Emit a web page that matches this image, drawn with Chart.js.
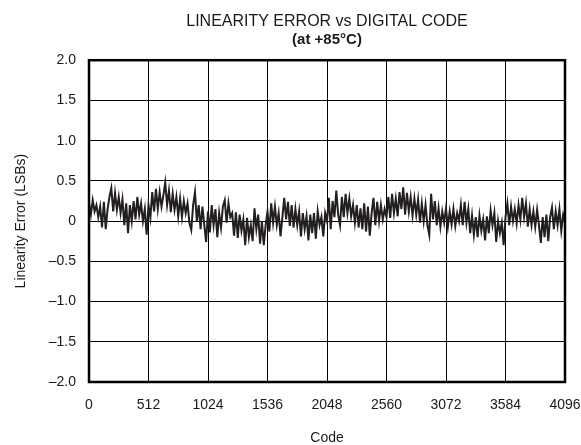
<!DOCTYPE html>
<html>
<head>
<meta charset="utf-8">
<script src="https://cdn.jsdelivr.net/npm/chart.js@4.4.1/dist/chart.umd.min.js"></script>
<style>
  html, body { margin: 0; padding: 0; background: #fff; }
  #wrap { width: 581px; height: 445px; }
</style>
</head>
<body>
<div id="wrap"><canvas id="myChart" width="581" height="445"></canvas></div>
<script>
// codes are sampled every 16 LSB steps
const codeStep = 16;
const xTicks = [0, 512, 1024, 1536, 2048, 2560, 3072, 3584, 4096];
const yTicks = [-2.0, -1.5, -1.0, -0.5, 0, 0.5, 1.0, 1.5, 2.0];

// linearity error (LSBs), code 0 .. 1008
const errQ1 = [
  0.22, 0.08, 0.26, 0.12, 0.2, 0.05, 0.18, -0.08,
  0.24, -0.1, 0.15, 0.3, 0.41, 0.12, 0.35, 0.14,
  0.3, 0.1, 0.27, -0.05, 0.22, -0.15, 0.2, 0.0,
  0.25, 0.02, 0.3, 0.08, 0.22, 0.0, 0.15, -0.17,
  0.2, 0.04, 0.36, 0.12, 0.4, 0.15, 0.36, 0.18,
  0.32, 0.48, 0.2, 0.38, 0.11, 0.34, 0.14, 0.3,
  0.06, 0.28, 0.05, 0.25, 0.1, 0.22, -0.02, -0.11,
  0.2, 0.36, 0.0, 0.2, -0.1, 0.18, -0.05, -0.26
];
// code 1024 .. 2032
const errQ2 = [
  0.12, -0.14, 0.2, -0.05, 0.15, -0.2, 0.1, -0.08,
  0.18, 0.26, -0.02, 0.22, 0.05, 0.1, -0.18, 0.11,
  -0.21, 0.08, -0.12, 0.02, -0.3, 0.04, -0.2, -0.05,
  -0.25, 0.16, -0.1, 0.08, -0.28, 0.0, -0.3, -0.05,
  0.12, -0.13, 0.22, -0.02, 0.18, -0.05, 0.1, -0.19,
  0.05, 0.29, 0.02, 0.24, -0.06, 0.2, -0.08, 0.15,
  -0.05, 0.12, -0.19, 0.1, -0.1, 0.06, -0.24, 0.08,
  -0.15, 0.1, -0.22, 0.12, -0.05, 0.05, -0.19, 0.1
];
// code 2048 .. 3056
const errQ3 = [
  0.0, 0.29, -0.1, 0.25, 0.05, 0.38, 0.08, -0.05,
  0.3, 0.05, 0.34, 0.1, 0.28, 0.06, 0.2, -0.02,
  0.2, -0.08, 0.16, -0.1, 0.22, -0.13, 0.18, -0.18,
  0.1, 0.29, -0.05, 0.24, 0.0, 0.2, 0.02, 0.15,
  0.05, 0.3, 0.04, 0.34, 0.1, 0.28, 0.06, 0.36,
  0.15, 0.42, 0.08, 0.35, 0.12, 0.3, 0.07, 0.28,
  0.08, 0.27, -0.02, 0.22, 0.0, 0.2, -0.05, -0.17,
  0.34, 0.02, 0.25, -0.05, 0.16, -0.07, 0.12, -0.02
];
// code 3072 .. 4096
const errQ4 = [
  0.16, -0.07, 0.12, -0.04, 0.15, -0.06, 0.1, 0.0,
  0.2, -0.05, 0.24, -0.02, 0.15, -0.15, 0.07, -0.17,
  0.05, -0.2, 0.07, -0.12, 0.02, -0.24, 0.06, -0.15,
  0.13, -0.05, 0.1, -0.26, 0.0, -0.15, -0.02, -0.3,
  0.05, 0.22, -0.05, 0.18, 0.0, 0.15, -0.03, 0.2,
  0.02, 0.29, 0.05, 0.22, -0.07, 0.15, -0.05, 0.12,
  -0.07, 0.14, -0.05, -0.27, 0.05, -0.2, 0.08, -0.25,
  0.05, 0.17, -0.1, 0.12, -0.05, 0.15, -0.12, 0.08,
  0.0
];

const errorValues = [...errQ1, ...errQ2, ...errQ3, ...errQ4];
const points = errorValues.map((v, i) => ({ x: i * codeStep, y: v }));

const FONT = "'Liberation Sans', Arial, Helvetica, sans-serif";
const INK = '#1a1a1a';

// thick frame round the plot area
const frame = {
  id: 'frame',
  afterDatasetsDraw(chart) {
    const { ctx, chartArea: a } = chart;
    ctx.save();
    ctx.strokeStyle = '#000';
    ctx.lineWidth = 2.5;
    ctx.strokeRect(a.left, a.top, a.right - a.left, a.bottom - a.top);
    ctx.restore();
  }
};

const fmtY = v => {
  if (v === 0) return '0';
  const s = Math.abs(v).toFixed(1);
  return v < 0 ? '\u2013' + s : s;
};

new Chart(document.getElementById('myChart'), {
  type: 'line',
  data: {
    datasets: [{
      data: points,
      borderColor: '#231f20',
      borderWidth: 2,
      pointRadius: 0,
      tension: 0,
      fill: false
    }]
  },
  options: {
    responsive: false,
    animation: false,
    events: [],
    layout: { padding: { left: 0, right: 0, top: 0, bottom: 0 } },
    plugins: {
      legend: { display: false },
      tooltip: { enabled: false },
      title: {
        display: true,
        fullSize: false,
        text: 'LINEARITY ERROR vs DIGITAL CODE',
        color: INK,
        font: { family: FONT, size: 16, weight: 'normal', lineHeight: 1.2 },
        padding: { top: 11.5, bottom: 0 }
      },
      subtitle: {
        display: true,
        fullSize: false,
        text: '(at +85\u00B0C)',
        color: INK,
        font: { family: FONT, size: 15, weight: 'bold', lineHeight: 1.2 },
        padding: { top: 0.5, bottom: 11 }
      }
    },
    scales: {
      x: {
        type: 'linear',
        min: 0,
        max: 4096,
        afterBuildTicks: s => { s.ticks = xTicks.map(v => ({ value: v })); },
        afterFit: s => { s.height = 63; s.paddingLeft = 0; s.paddingRight = 16; },
        grid: { color: '#000', lineWidth: 1, drawTicks: false },
        border: { display: false },
        ticks: {
          color: INK,
          font: { family: FONT, size: 14 },
          padding: 15,
          maxRotation: 0,
          callback: v => String(v)
        },
        title: {
          display: true,
          text: 'Code',
          color: INK,
          font: { family: FONT, size: 14 },
          padding: { top: 0, bottom: -2 }
        }
      },
      y: {
        min: -2,
        max: 2,
        afterBuildTicks: s => { s.ticks = yTicks.map(v => ({ value: v })); },
        afterFit: s => { s.width = 89; },
        grid: { color: '#000', lineWidth: 1, drawTicks: false },
        border: { display: false },
        ticks: { color: INK, font: { family: FONT, size: 14 }, padding: 13, callback: fmtY },
        title: {
          display: true,
          text: 'Linearity Error (LSBs)',
          color: INK,
          font: { family: FONT, size: 14 },
          padding: { top: 13, bottom: 0 }
        }
      }
    }
  },
  plugins: [frame]
});
</script>
</body>
</html>
